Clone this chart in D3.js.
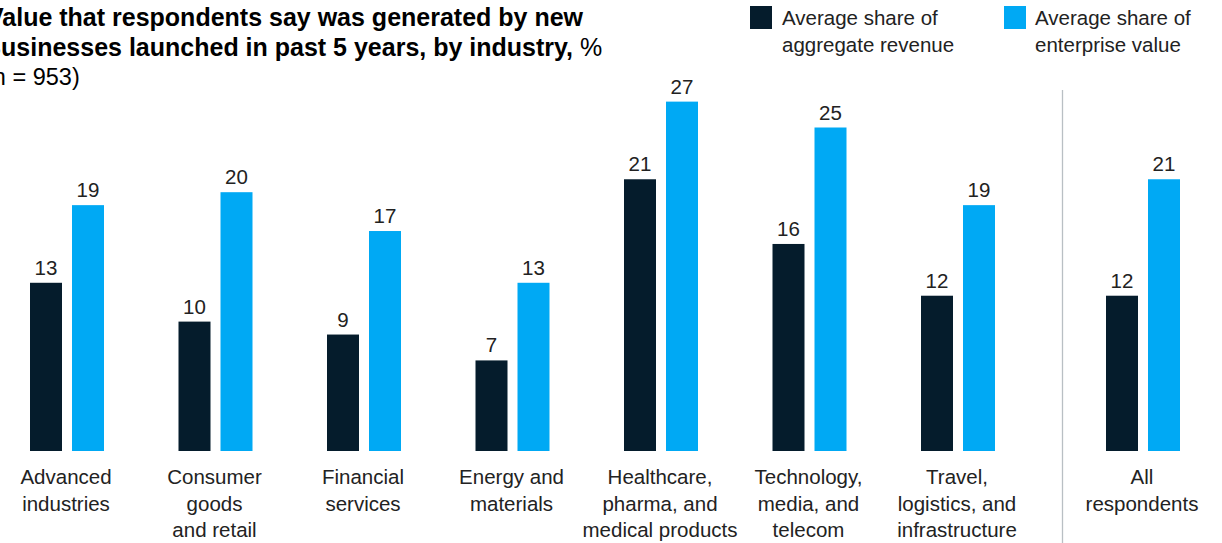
<!DOCTYPE html>
<html>
<head>
<meta charset="utf-8">
<script src="https://cdn.jsdelivr.net/npm/d3@7"></script>
<style>
  html, body { margin: 0; padding: 0; background: #fff; }
  svg { display: block; font-family: "Liberation Sans", Arial, sans-serif; }
</style>
</head>
<body>
<svg id="chart" width="1222" height="543"></svg>
<script>
// Industry groups, then the all-respondents summary group
const industries = [
  "Advanced industries",
  "Consumer goods and retail",
  "Financial services",
  "Energy and materials",
  "Healthcare, pharma, and medical products",
  "Technology, media, and telecom",
  "Travel, logistics, and infrastructure"
];
const summary = ["All respondents"];

// Wrapped axis labels for each group
const labelLines = [
  ["Advanced", "industries"],
  ["Consumer", "goods", "and retail"],
  ["Financial", "services"],
  ["Energy and", "materials"],
  ["Healthcare,", "pharma, and", "medical products"],
  ["Technology,", "media, and", "telecom"],
  ["Travel,", "logistics, and", "infrastructure"],
  ["All", "respondents"]
];

// Average share of aggregate revenue, %
const revenueShare = [13, 10, 9, 7, 21, 16, 12, 12];
// Average share of enterprise value, %
const enterpriseShare = [19, 20, 17, 13, 27, 25, 19, 21];

const seriesKeys = ["revenue", "enterprise"];
const legendLines = [["Average share of", "aggregate revenue"], ["Average share of", "enterprise value"]];
const colors = { revenue: "#051c2c", enterprise: "#00a9f4" };

const svg = d3.select("#chart");

// Scales
const baseline = 451;
const y = d3.scaleLinear().domain([0, 27]).range([baseline, baseline - 27 * 12.94]);

const xIndustry = d3.scaleBand().domain(industries).range([-7.25, 1032.25]).paddingInner(0).paddingOuter(0);
const xSummary = d3.scaleBand().domain(summary).range([1068.75, 1217.25]).paddingInner(0).paddingOuter(0);
const groupCenter = name => industries.includes(name)
  ? xIndustry(name) + xIndustry.bandwidth() / 2
  : xSummary(name) + xSummary.bandwidth() / 2;

const xSeries = d3.scaleBand().domain(seriesKeys).range([-37, 37]).paddingInner(10 / 42).paddingOuter(0);

const allGroups = industries.concat(summary);
const rows = allGroups.map((name, i) => ({
  name,
  lines: labelLines[i],
  values: { revenue: revenueShare[i], enterprise: enterpriseShare[i] }
}));

// Title (runs off the left edge of the frame)
const title = svg.append("text")
  .attr("fill", "#000")
  .style("font-size", "25px");
title.append("tspan").attr("x", -13).attr("y", 26).style("font-weight", "bold")
  .text("Value that respondents say was generated by new");
const t2 = title.append("tspan").attr("x", -17).attr("y", 55.5);
t2.append("tspan").style("font-weight", "bold").text("Businesses launched in past 5 years, by industry,");
t2.append("tspan").text(" %");
title.append("tspan").attr("x", -15).attr("y", 85).style("font-size", "23.5px").text("(n = 953)");

// Legend
const legend = svg.append("g");
const legendX = [750, 1004];
seriesKeys.forEach((k, i) => {
  const g = legend.append("g").attr("transform", `translate(${legendX[i]},0)`);
  g.append("rect").attr("x", 0).attr("y", 6).attr("width", 22).attr("height", 23).attr("fill", colors[k]);
  const t = g.append("text").attr("fill", "#222").style("font-size", "20.5px");
  legendLines[i].forEach((line, j) => {
    t.append("tspan").attr("x", i === 0 ? 32 : 31).attr("y", 25 + j * 27).text(line);
  });
});

// Separator before the summary group
svg.append("line")
  .attr("x1", 1062.5).attr("x2", 1062.5)
  .attr("y1", 90).attr("y2", 543)
  .attr("stroke", "#b9bfc4").attr("stroke-width", 1.3);

// Bars
const groups = svg.append("g").selectAll("g")
  .data(rows).join("g")
  .attr("transform", d => `translate(${groupCenter(d.name)},0)`);

groups.selectAll("rect")
  .data(d => seriesKeys.map(k => ({ key: k, value: d.values[k] })))
  .join("rect")
  .attr("x", d => xSeries(d.key))
  .attr("width", xSeries.bandwidth())
  .attr("y", d => y(d.value))
  .attr("height", d => y(0) - y(d.value))
  .attr("fill", d => colors[d.key]);

// Value labels
groups.selectAll("text.value")
  .data(d => seriesKeys.map(k => ({ key: k, value: d.values[k] })))
  .join("text")
  .attr("class", "value")
  .attr("x", d => xSeries(d.key) + xSeries.bandwidth() / 2)
  .attr("y", d => y(d.value) - 8)
  .attr("text-anchor", "middle")
  .attr("fill", "#222")
  .style("font-size", "20.5px")
  .text(d => d.value);

// Category labels
groups.append("text")
  .attr("text-anchor", "middle")
  .attr("fill", "#222")
  .style("font-size", "20.5px")
  .selectAll("tspan")
  .data(d => d.lines)
  .join("tspan")
  .attr("x", -1)
  .attr("y", (d, i) => 484 + i * 26.5)
  .text(d => d);
</script>
</body>
</html>
